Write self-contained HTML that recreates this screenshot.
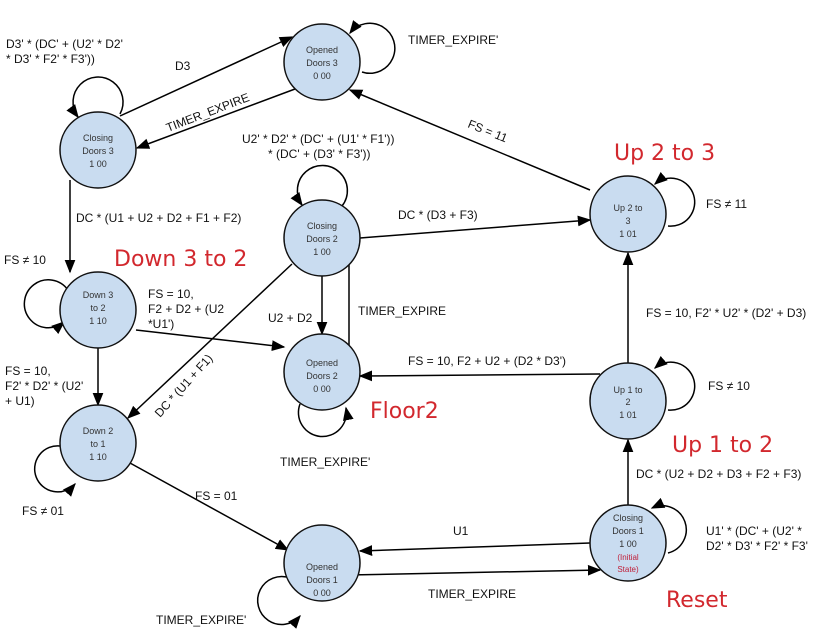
<!DOCTYPE html>
<html><head><meta charset="utf-8"><style>
html,body{margin:0;padding:0;background:#fff;}
svg{display:block;}
text{font-family:"Liberation Sans",sans-serif;fill:#111;}
.n text{font-size:9px;text-anchor:middle;fill:#333;}
.l text{font-size:12px;}
.r text{font-size:22px;fill:#d2282e;font-family:"DejaVu Sans","Liberation Sans",sans-serif;}
</style></head><body>
<svg width="816" height="635" viewBox="0 0 816 635" xmlns="http://www.w3.org/2000/svg">
<defs><marker id="a" viewBox="0 0 10 10" refX="9" refY="5" markerWidth="9" markerHeight="9" orient="auto-start-reverse"><path d="M0,1 L10,5 L0,9 z" fill="#000"/></marker></defs>
<g stroke="#000" stroke-width="1.5" fill="none">
<!-- self loops -->
<path d="M362,72 A25 25 0 1 0 350,33" marker-end="url(#a)"/>
<path d="M120,114 A25 25 0 1 0 78,117" marker-end="url(#a)"/>
<path d="M342,206 A25 25 0 1 0 302,205" marker-end="url(#a)"/>
<path d="M668,226 A24 24 0 1 0 655,184" marker-end="url(#a)"/>
<path d="M68,290 A24 24 0 1 0 64,322" marker-end="url(#a)"/>
<path d="M668,410 A24 24 0 1 0 655,368" marker-end="url(#a)"/>
<path d="M60,446 A23 23 0 1 0 75,484" marker-end="url(#a)"/>
<path d="M300,404 A24 24 0 1 0 346,408" marker-end="url(#a)"/>
<path d="M290,578 A24 24 0 1 0 300,616" marker-end="url(#a)"/>
<path d="M668,553 A24 24 0 1 0 652,508" marker-end="url(#a)"/>
<!-- edges -->
<path d="M120,116 L292,37" marker-end="url(#a)"/>
<path d="M295,89 L137,148" marker-end="url(#a)"/>
<path d="M70,180 L70,272" marker-end="url(#a)"/>
<path d="M360,238 L590,220" marker-end="url(#a)"/>
<path d="M590,190 L350,90" marker-end="url(#a)"/>
<path d="M628,363 L628,253" marker-end="url(#a)"/>
<path d="M628,505 L628,440" marker-end="url(#a)"/>
<path d="M600,374 L360,376" marker-end="url(#a)"/>
<path d="M136,330 L284,347" marker-end="url(#a)"/>
<path d="M98,348 L98,405" marker-end="url(#a)"/>
<path d="M292,264 L128,418" marker-end="url(#a)"/>
<path d="M322,276 L322,334" marker-end="url(#a)"/>
<path d="M349,346 L349,245" marker-end="url(#a)"/>
<path d="M130,463 L288,550" marker-end="url(#a)"/>
<path d="M590,543 L360,551" marker-end="url(#a)"/>
<path d="M348,575 L600,570" marker-end="url(#a)"/>
</g>
<g fill="#c9dcf0" stroke="#111" stroke-width="1.5">
<circle cx="322" cy="62" r="38"/><circle cx="98" cy="150" r="38"/>
<circle cx="322" cy="238" r="38"/><circle cx="628" cy="214" r="38"/>
<circle cx="98" cy="310" r="38"/><circle cx="322" cy="372" r="38"/>
<circle cx="628" cy="401" r="38"/><circle cx="98" cy="443" r="38"/>
<circle cx="322" cy="563" r="38"/><circle cx="628" cy="543" r="38"/>
</g>
<g class="n">
<text x="322" y="53">Opened</text><text x="322" y="66">Doors 3</text><text x="322" y="79">0 00</text>
<text x="98" y="141">Closing</text><text x="98" y="154">Doors 3</text><text x="98" y="167">1 00</text>
<text x="322" y="229">Closing</text><text x="322" y="242">Doors 2</text><text x="322" y="255">1 00</text>
<text x="628" y="211">Up 2 to</text><text x="628" y="224">3</text><text x="628" y="237">1 01</text>
<text x="98" y="298">Down 3</text><text x="98" y="311">to 2</text><text x="98" y="324">1 10</text>
<text x="322" y="366">Opened</text><text x="322" y="379">Doors 2</text><text x="322" y="392">0 00</text>
<text x="628" y="393">Up 1 to</text><text x="628" y="405">2</text><text x="628" y="418">1 01</text>
<text x="98" y="434">Down 2</text><text x="98" y="447">to 1</text><text x="98" y="460">1 10</text>
<text x="322" y="570">Opened</text><text x="322" y="583">Doors 1</text><text x="322" y="596">0 00</text>
<text x="628" y="521">Closing</text><text x="628" y="534">Doors 1</text><text x="628" y="547">1 00</text>
<text x="628" y="560" style="fill:#c0203a;font-size:8px">(Initial</text><text x="628" y="572" style="fill:#c0203a;font-size:8px">State)</text>
</g>
<g class="l">
<text x="6" y="48">D3' * (DC' + (U2' * D2'</text><text x="6" y="63">* D3' * F2' * F3'))</text>
<text x="175" y="70">D3</text>
<text x="408" y="44">TIMER_EXPIRE'</text>
<text x="168" y="132" transform="rotate(-21 168 132)">TIMER_EXPIRE</text>
<text x="242" y="143">U2' * D2' * (DC' + (U1' * F1'))</text><text x="268" y="158">* (DC' + (D3' * F3'))</text>
<text x="467" y="127" transform="rotate(22 467 127)">FS = 11</text>
<text x="76" y="222">DC * (U1 + U2 + D2 + F1 + F2)</text>
<text x="398" y="219">DC * (D3 + F3)</text>
<text x="706" y="208">FS ≠ 11</text>
<text x="4" y="264">FS ≠ 10</text>
<text x="148" y="298">FS = 10,</text><text x="148" y="313">F2 + D2 + (U2</text><text x="148" y="328">*U1')</text>
<text x="358" y="315">TIMER_EXPIRE</text>
<text x="268" y="322">U2 + D2</text>
<text x="646" y="317">FS = 10, F2' * U2' * (D2' + D3)</text>
<text x="408" y="365">FS = 10, F2 + U2 + (D2 * D3')</text>
<text x="5" y="375">FS = 10,</text><text x="5" y="390">F2' * D2' * (U2'</text><text x="5" y="405">+ U1)</text>
<text x="708" y="390">FS ≠ 10</text>
<text x="160" y="418" transform="rotate(-48 160 418)">DC * (U1 + F1)</text>
<text x="280" y="466">TIMER_EXPIRE'</text>
<text x="636" y="478">DC * (U2 + D2 + D3 + F2 + F3)</text>
<text x="195" y="500">FS = 01</text>
<text x="22" y="515">FS ≠ 01</text>
<text x="453" y="535">U1</text>
<text x="706" y="535">U1' * (DC' + (U2' *</text><text x="706" y="550">D2' * D3' * F2' * F3'</text>
<text x="428" y="598">TIMER_EXPIRE</text>
<text x="156" y="624">TIMER_EXPIRE'</text>
</g>
<g class="r">
<text x="614" y="160">Up 2 to 3</text>
<text x="114" y="266">Down 3 to 2</text>
<text x="370" y="418">Floor2</text>
<text x="672" y="452">Up 1 to 2</text>
<text x="666" y="607">Reset</text>
</g>
</svg>
</body></html>
